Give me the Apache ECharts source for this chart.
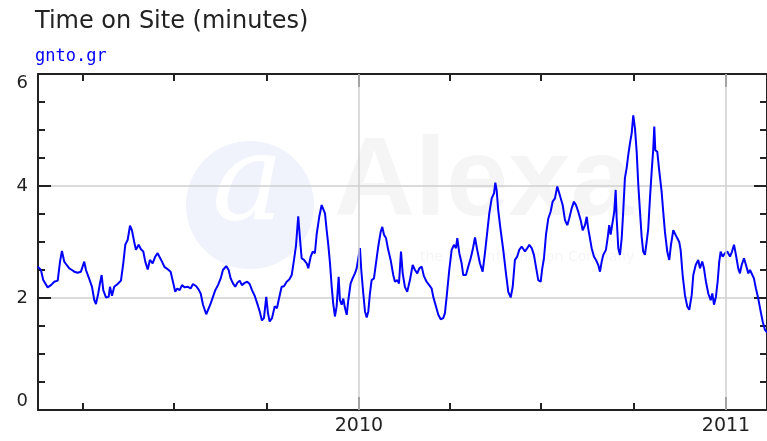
<!DOCTYPE html>
<html>
<head>
<meta charset="utf-8">
<title>Time on Site</title>
<script src="https://cdn.jsdelivr.net/npm/echarts@6/dist/echarts.min.js"></script>
<style>
  body{margin:0;background:#fff;}
  #main{width:767px;height:441px;}
</style>
</head>
<body>
<div id="main"></div>
<script>
// x = days since 2009-01-01, y = minutes
var days = [45.5,48.7,51.0,55.4,58.7,62.0,65.4,67.7,69.6,71.9,74.3,76.9,79.6,81.9,85.2,88.5,90.2,91.8,93.5,96.2,
  99.5,101.8,103.4,105.7,107.4,109.1,110.7,113.4,116.1,117.4,119.4,121.6,125.0,128.3,130.6,132.6,135.0,137.3,139.2,141.5,
  143.2,145.9,148.2,150.5,152.5,154.9,157.1,159.8,162.4,164.8,
  169.1,171.8,175.1,177.7,180.0,182.3,184.3,186.7,189.0,191.7,194.9,197.6,199.9,203.2,205.6,207.6,209.9,213.1,214.8,217.1,
  219.8,222.1,224.8,227.5,229.7,233.0,235.4,237.4,239.7,242.0,244.0,246.4,248.6,251.3,253.9,256.3,258.6,261.3,263.9,266.3,
  268.5,270.5,272.8,274.5,276.2,278.5,281.2,283.5,285.1,
  288.1,290.4,293.1,295.7,298.1,300.4,302.3,304.6,306.3,308.0,310.3,313.0,314.6,317.0,319.0,321.2,322.9,325.5,327.9,329.5,
  331.2,332.9,334.5,336.2,337.9,339.4,341.1,342.8,344.8,346.1,347.8,349.4,351.1,352.8,354.4,356.7,358.7,361.0,362.7,364.3,
  366.0,367.3,369.3,371.0,372.7,374.3,375.9,377.6,379.9,381.9,384.2,386.6,388.2,389.9,391.9,394.1,396.5,399.1,400.8,403.1,
  404.8,406.8,408.5,410.7,
  413.0,415.7,418.4,420.7,423.0,425.0,427.4,429.6,432.3,434.9,437.3,438.9,441.6,443.9,446.3,448.8,450.5,452.2,454.8,457.2,
  459.5,461.5,462.8,464.8,467.1,468.7,471.4,473.7,476.1,478.1,480.4,482.6,485.3,488.0,490.3,492.6,494.6,497.0,499.3,500.6,
  501.9,503.5,505.9,508.5,511.2,513.5,515.9,517.9,520.1,522.4,524.4,526.8,
  530.1,532.4,534.4,536.8,539.0,541.0,543.3,545.7,547.3,549.0,551.0,553.3,555.6,557.6,559.9,562.2,564.2,565.6,567.6,569.9,
  572.2,574.1,576.5,578.8,580.8,583.1,585.5,587.5,589.8,591.5,593.0,594.7,596.4,598.7,600.7,603.0,604.7,606.4,608.0,610.6,
  612.3,613.9,615.3,617.3,618.9,620.3,621.3,622.9,624.6,626.3,627.8,629.5,631.2,632.8,634.5,636.2,637.8,639.5,641.2,642.8,
  644.5,646.1,647.7,649.4,
  651.1,652.7,654.4,656.1,657.7,658.7,659.7,661.7,663.7,666.0,667.6,669.3,671.6,673.6,675.3,677.6,679.3,681.5,683.5,684.9,
  686.9,689.2,691.5,693.5,695.9,697.5,699.9,702.4,704.1,706.4,708.1,710.1,712.4,714.8,716.4,718.1,720.0,721.7,723.3,724.7,
  726.7,729.0,731.3,734.0,736.0,738.0,739.9,742.2,743.9,745.6,747.9,749.9,752.2,753.9,755.5,757.8,759.8,762.1,764.5,766.5,
  768.8,771.0];

var values = [2.56,2.5,2.32,2.19,2.23,2.29,2.31,2.65,2.84,2.65,2.59,2.53,2.5,2.47,2.45,2.47,2.44,2.65,2.5,2.37,
  2.2,1.96,1.89,2.08,2.26,2.41,2.14,2.01,2.02,2.2,2.04,2.2,2.25,2.31,2.62,2.95,3.04,3.29,3.21,3.0,
  2.86,2.95,2.87,2.83,2.65,2.51,2.68,2.62,2.74,2.8,
  2.65,2.55,2.51,2.47,2.29,2.11,2.17,2.14,2.23,2.19,2.2,2.17,2.25,2.21,2.15,2.08,1.88,1.71,1.7,1.88,
  2.02,2.14,2.23,2.35,2.5,2.57,2.5,2.35,2.26,2.2,2.27,2.31,2.23,2.27,2.29,2.25,2.14,2.04,1.9,1.76,
  1.6,1.64,2.02,1.73,1.58,1.64,1.85,1.82,1.96,
  2.2,2.21,2.29,2.33,2.41,2.68,2.92,3.46,3.07,2.71,2.68,2.62,2.53,2.74,2.83,2.8,3.13,3.45,3.66,3.69,
  3.51,3.21,2.95,2.62,2.2,1.9,1.67,1.85,2.38,1.96,1.88,1.99,1.82,1.7,1.96,2.26,2.35,2.44,2.53,2.51,
  2.89,2.5,2.08,1.76,1.65,1.76,2.08,2.32,2.35,2.62,2.92,3.18,3.27,3.13,3.07,2.86,2.68,2.41,2.29,2.32,
  2.26,2.83,2.44,2.2,
  2.11,2.32,2.59,2.5,2.44,2.53,2.56,2.39,2.29,2.23,2.17,2.02,1.85,1.7,1.62,1.64,1.73,2.02,2.5,2.86,
  2.95,2.89,3.07,2.8,2.62,2.41,2.41,2.56,2.71,2.86,3.08,2.86,2.62,2.47,2.8,3.18,3.51,3.78,3.87,4.06,
  3.93,3.57,3.21,2.86,2.44,2.11,2.01,2.2,2.68,2.74,2.86,2.92,
  2.83,2.89,2.95,2.89,2.77,2.56,2.32,2.29,2.53,2.71,3.13,3.42,3.54,3.72,3.78,3.99,3.87,3.9,3.66,3.39,
  3.3,3.42,3.6,3.72,3.66,3.54,3.39,3.21,3.3,3.45,3.24,3.07,2.89,2.74,2.68,2.59,2.47,2.65,2.77,2.86,
  3.07,3.3,3.13,3.36,3.54,3.93,3.42,2.89,2.77,3.07,3.54,4.14,4.32,4.55,4.76,4.94,5.26,5.03,4.61,4.02,
  3.54,3.1,2.83,2.77,
  3.0,3.24,3.78,4.26,4.67,5.06,4.64,4.61,4.26,3.9,3.54,3.18,2.83,2.68,2.95,3.21,3.24,3.07,3.0,2.86,
  2.41,2.05,1.85,1.79,2.05,2.41,2.59,2.68,2.53,2.65,2.53,2.29,2.08,1.96,2.08,1.88,2.02,2.29,2.65,2.83,
  2.74,2.8,2.83,2.74,2.83,2.95,2.77,2.53,2.44,2.59,2.71,2.59,2.44,2.5,2.53,2.35,2.17,1.99,1.76,1.58,
  1.43,1.38];

var yearTicks = [365, 730];
var yearLabels = ['2010', '2011'];
var quarterTicks = [90, 181, 273, 455, 546, 638];
var xMin = 45.8, xMax = 770.8;

var seriesData = days.map(function(d, i){ return [d, values[i]]; });

var frame = '#222';
function xAxisDef(pos, ticks, len, withLine, withLabel){
  return {
    type: 'value', position: pos, min: xMin, max: xMax,
    axisLine: {show: withLine, onZero: false, lineStyle: {color: frame, width: 2}},
    axisTick: {show: true, inside: true, length: len, customValues: ticks, lineStyle: {color: frame, width: 2}},
    axisLabel: {show: withLabel, customValues: ticks, margin: 7, fontSize: 19, color: '#222', fontFamily: 'DejaVu Sans',
      formatter: function(v){ return yearLabels[yearTicks.indexOf(v)]; }},
    splitLine: {show: false}
  };
}
function yAxisDef(pos, withLabel){
  return {
    type: 'value', position: pos, min: 0, max: 6, interval: 2,
    axisLine: {show: true, onZero: false, lineStyle: {color: frame, width: 2}},
    axisTick: {show: true, inside: true, length: 13, lineStyle: {color: frame, width: 2}},
    minorTick: {show: true, splitNumber: 4, length: 7, lineStyle: {color: frame, width: 2}},
    axisLabel: {show: withLabel, margin: 10, fontSize: 18, color: '#222', fontFamily: 'DejaVu Sans',
      verticalAlignMinLabel: 'bottom', verticalAlignMaxLabel: 'top'},
    splitLine: {show: withLabel, lineStyle: {color: '#cfcfcf', width: 1.5}}
  };
}

var chart = echarts.init(document.getElementById('main'), null, {renderer: 'canvas'});
chart.setOption({
  animation: false,
  backgroundColor: '#fff',
  title: {
    text: 'Time on Site (minutes)', subtext: 'gnto.gr',
    left: 35, top: 10, padding: 0, itemGap: 14,
    textStyle: {fontSize: 24, fontWeight: 'normal', color: '#222', fontFamily: 'DejaVu Sans'},
    subtextStyle: {fontSize: 17, color: '#0000ff', fontFamily: 'DejaVu Sans Mono'}
  },
  // faint Alexa watermark
  graphic: [
    {type: 'circle', z: -10, shape: {cx: 250, cy: 205, r: 64}, style: {fill: '#f0f2fc'}},
    {type: 'text', z: -9, left: 212, top: 128, style: {text: 'a', fill: '#ffffff', font: 'italic 120px DejaVu Serif'}},
    {type: 'text', z: -9, left: 334, top: 128, style: {text: 'Alexa', fill: '#f5f5f5', font: 'bold 112px Liberation Sans'}},
    {type: 'text', z: -9, left: 420, top: 250, style: {text: 'the Web Information Company', fill: '#f6f6f6', font: '14px DejaVu Sans'}}
  ],
  grid: {left: 38, right: 0, top: 74, bottom: 31},
  xAxis: [
    xAxisDef('bottom', yearTicks, 13, true, true),
    xAxisDef('bottom', quarterTicks, 7, false, false),
    xAxisDef('top', yearTicks, 13, true, false),
    xAxisDef('top', quarterTicks, 7, false, false)
  ],
  yAxis: [yAxisDef('left', true), yAxisDef('right', false)],
  series: [{
    type: 'line', xAxisIndex: 0, yAxisIndex: 0,
    data: seriesData, showSymbol: false, symbol: 'none', clip: true,
    lineStyle: {color: '#0000ff', width: 2},
    markLine: {
      silent: true, symbol: ['none', 'none'], label: {show: false},
      lineStyle: {color: '#cfcfcf', width: 1.5, type: 'solid'},
      data: yearTicks.map(function(t){ return {xAxis: t}; })
    }
  }]
});
</script>
</body>
</html>
